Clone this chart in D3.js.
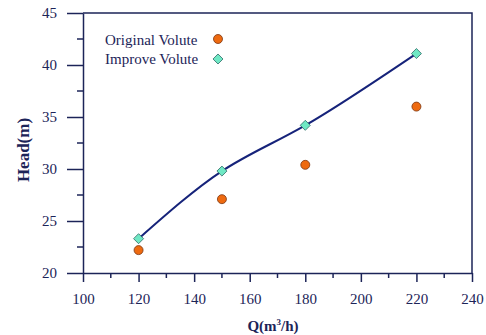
<!DOCTYPE html>
<html>
<head>
<meta charset="utf-8">
<script src="https://cdn.jsdelivr.net/npm/d3@7"></script>
<style>
  body { margin: 0; background: #fff; }
  text { font-family: "Liberation Serif", "Times New Roman", serif; fill: #1c2458; }
</style>
</head>
<body>
<svg id="chart" width="486" height="335"></svg>
<script>
/* ---------------- data ---------------- */
var flow = [120, 150, 180, 220]
var headOriginal = [22.2, 27.1, 30.4, 36.0]
var headImprove = [23.3, 29.8, 34.2, 41.1]
var xTicks = [100, 120, 140, 160, 180, 200, 220, 240]
var yTicks = [20, 25, 30, 35, 40, 45]
var seriesNames = ["Original Volute", "Improve Volute"]

var navy = "#1c2458"
var svg = d3.select("#chart")
var plotL = 83, plotR = 472, plotT = 13, plotB = 273

var x = d3.scaleLinear().domain([100, 240]).range([plotL, plotR])
var y = d3.scaleLinear().domain([20, 45]).range([plotB, plotT])

/* ---------------- axes ---------------- */
// minor ticks
svg.append("g").selectAll("line").data(d3.range(110, 240, 20)).enter().append("line")
    .attr("x1", d => x(d)).attr("x2", d => x(d))
    .attr("y1", plotB).attr("y2", plotB + 5)
    .attr("stroke", navy).attr("stroke-width", 1.5)
svg.append("g").selectAll("line").data(d3.range(22.5, 45, 5)).enter().append("line")
    .attr("x1", plotL - 6).attr("x2", plotL)
    .attr("y1", d => y(d)).attr("y2", d => y(d))
    .attr("stroke", navy).attr("stroke-width", 1.5)

var xAxis = svg.append("g").attr("transform", "translate(0," + plotB + ")")
    .call(d3.axisBottom(x).tickValues(xTicks).tickSize(9).tickPadding(11).tickSizeOuter(0))
var yAxis = svg.append("g").attr("transform", "translate(" + plotL + ",0)")
    .call(d3.axisLeft(y).tickValues(yTicks).tickSize(16).tickPadding(10).tickSizeOuter(0))

;[xAxis, yAxis].forEach(function (g) {
    g.select(".domain").attr("stroke", navy).attr("stroke-width", 1.5)
    g.selectAll(".tick line").attr("stroke", navy).attr("stroke-width", 1.5)
    g.selectAll(".tick text").attr("font-size", 15)
        .attr("font-family", "Liberation Serif, serif").attr("fill", navy)
})

// frame top / right
svg.append("path")
    .attr("d", "M" + plotL + "," + plotT + "H" + plotR + "V" + plotB)
    .attr("fill", "none").attr("stroke", navy).attr("stroke-width", 1.5)

/* ---------------- axis titles ---------------- */
var xTitle = svg.append("text").attr("x", 273).attr("y", 331)
    .attr("text-anchor", "middle").attr("font-size", 15).attr("font-weight", "bold")
xTitle.append("tspan").text("Q(m")
xTitle.append("tspan").text("3").attr("font-size", 9).attr("dy", -6)
xTitle.append("tspan").text("/h)").attr("dy", 6)

svg.append("text")
    .attr("transform", "translate(29,150) rotate(-90)")
    .attr("text-anchor", "middle").attr("font-size", 17).attr("font-weight", "bold")
    .text("Head(m)")

/* ---------------- series ---------------- */
var improvePts = flow.map((f, i) => [x(f), y(headImprove[i])])

svg.append("path")
    .attr("d", d3.line().curve(d3.curveNatural)(improvePts))
    .attr("fill", "none").attr("stroke", "#16237a").attr("stroke-width", 2)

var diamond = d3.symbol().type(d3.symbolDiamond2).size(64)

svg.append("g").selectAll("circle").data(flow).enter().append("circle")
    .attr("cx", d => x(d)).attr("cy", (d, i) => y(headOriginal[i])).attr("r", 4.5)
    .attr("fill", "#ee6a10").attr("stroke", "#7a3510").attr("stroke-width", 0.8)

svg.append("g").selectAll("path").data(flow).enter().append("path")
    .attr("d", diamond)
    .attr("transform", (d, i) => "translate(" + x(d) + "," + y(headImprove[i]) + ")")
    .attr("fill", "#6fe8c4").attr("stroke", "#2f6a66").attr("stroke-width", 0.8)

/* ---------------- legend ---------------- */
var legend = svg.append("g")
legend.selectAll("text").data(seriesNames).enter().append("text")
    .attr("x", 105).attr("y", (d, i) => 45 + i * 19)
    .attr("font-size", 15).text(d => d)
legend.append("circle").attr("cx", 218).attr("cy", 39).attr("r", 4.5)
    .attr("fill", "#ee6a10").attr("stroke", "#7a3510").attr("stroke-width", 0.8)
legend.append("path").attr("d", diamond).attr("transform", "translate(218,59)")
    .attr("fill", "#6fe8c4").attr("stroke", "#2f6a66").attr("stroke-width", 0.8)
</script>
</body>
</html>
